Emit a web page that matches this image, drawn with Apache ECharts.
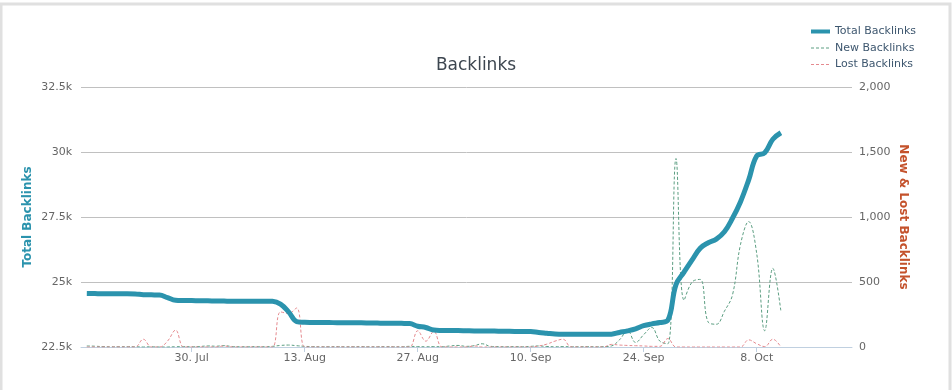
<!DOCTYPE html>
<html>
<head>
<meta charset="utf-8">
<script src="https://cdn.jsdelivr.net/npm/echarts@6/dist/echarts.min.js"></script>
<style>
html,body{margin:0;padding:0;background:#fff;}
#chart{width:952px;height:390px;}
</style>
</head>
<body>
<div id="chart"></div>
<script>
// Daily points, 17 Jul (index 0) to 11 Oct (index 86)
var totalBacklinks = [
  24560,24555,24550,24550,24545,24545,24540,24510,24505,24500,
  24400,24300,24290,24285,24280,24275,24270,24265,24260,24260,
  24260,24260,24260,24255,24150,23850,23480,23450,23445,23440,
  23440,23435,23435,23430,23430,23425,23420,23415,23415,23410,
  23400,23300,23250,23150,23135,23130,23130,23125,23120,23120,
  23115,23110,23105,23100,23100,23095,23060,23030,23000,22990,
  22990,22990,22990,22990,22990,22995,23060,23120,23200,23320,
  23390,23440,23530,24900,25380,25850,26300,26510,26650,26930,
  27450,28090,28920,29850,29970,30490,30740
];
var newBacklinks = [
  8,6,3,2,2,3,2,0,2,0,
  0,2,3,2,4,8,6,10,4,2,
  2,3,2,5,12,15,10,5,3,2,
  2,3,2,2,3,2,2,3,2,2,
  5,3,2,3,2,8,12,5,10,25,
  5,3,2,3,2,5,8,4,2,3,
  2,2,3,2,3,8,55,125,35,95,
  150,45,25,1450,360,500,520,190,175,275,
  400,790,965,720,125,605,275
];
var lostBacklinks = [
  0,0,0,0,0,0,0,60,0,0,
  45,130,0,0,0,0,0,8,0,0,
  0,0,0,0,270,258,300,0,0,0,
  0,0,0,0,0,0,0,0,0,0,
  0,125,45,120,0,0,0,0,8,0,
  0,0,0,0,0,0,8,22,45,60,
  0,0,0,0,0,20,15,12,10,8,
  5,5,65,0,0,0,0,0,0,0,
  0,0,55,25,3,60,0
];
var tickDays = [13, 27, 41, 55, 69, 83];
var tickLabels = ['30. Jul', '13. Aug', '27. Aug', '10. Sep', '24. Sep', '8. Oct'];
var seriesNames = ['Total Backlinks', 'New Backlinks', 'Lost Backlinks'];

function pairs(arr) { return arr.map(function (v, i) { return [i, v]; }); }

var FONT = 'DejaVu Sans';
var TEAL = '#2b93ad', GREEN = '#5c9e82', PINK = '#e58a8f';
var chart = echarts.init(document.getElementById('chart'), null, { renderer: 'canvas' });
chart.setOption({
  animation: false,
  backgroundColor: '#ffffff',
  title: {
    text: 'Backlinks',
    left: 'center',
    top: 52,
    textStyle: { fontFamily: FONT, fontSize: 17, fontWeight: 'normal', color: '#3d4650' }
  },
  legend: {
    orient: 'vertical',
    left: 809,
    top: 26,
    padding: 0,
    itemWidth: 19,
    itemHeight: 10,
    itemGap: 5.5,
    data: [
      { name: seriesNames[0], lineStyle: { width: 4, color: TEAL, type: 'solid' } },
      { name: seriesNames[1], lineStyle: { width: 1, color: GREEN, type: [3, 2] } },
      { name: seriesNames[2], lineStyle: { width: 1, color: PINK, type: [3, 2] } }
    ],
    itemStyle: { opacity: 0, borderWidth: 0 },
    textStyle: { fontFamily: FONT, fontSize: 11, color: '#3e576f' }
  },
  grid: { left: 81, right: 100, top: 87, bottom: 43 },
  xAxis: {
    type: 'value',
    min: -0.72,
    max: 94.81,
    splitLine: { show: false },
    axisLine: { show: true, lineStyle: { color: '#c0d0e0' } },
    axisTick: { show: true, length: 5, customValues: tickDays, lineStyle: { color: '#c0d0e0' } },
    axisLabel: {
      customValues: tickDays,
      margin: 6,
      fontFamily: FONT, fontSize: 11, color: '#666666',
      formatter: function (v) {
        var k = tickDays.indexOf(Math.round(v));
        return k >= 0 ? tickLabels[k] : '';
      }
    }
  },
  yAxis: [
    {
      type: 'value',
      min: 22500, max: 32500, interval: 2500,
      name: 'Total Backlinks',
      nameLocation: 'middle',
      nameGap: 47,
      nameMoveOverlap: false,
      nameTextStyle: { fontFamily: FONT, fontSize: 12, fontWeight: 'bold', color: TEAL },
      axisLine: { show: false },
      axisTick: { show: false },
      axisLabel: {
        margin: 9, fontFamily: FONT, fontSize: 11, color: '#666666',
        formatter: function (v) { return (v / 1000) + 'k'; }
      },
      splitLine: { lineStyle: { color: '#c0c0c0', width: 1 } }
    },
    {
      type: 'value',
      min: 0, max: 2000, interval: 500,
      name: 'New & Lost Backlinks',
      nameLocation: 'middle',
      nameGap: 45,
      nameMoveOverlap: false,
      nameRotate: -90,
      nameTextStyle: { fontFamily: FONT, fontSize: 12, fontWeight: 'bold', color: '#c4522c' },
      axisLine: { show: false },
      axisTick: { show: false },
      axisLabel: {
        margin: 7, fontFamily: FONT, fontSize: 11, color: '#666666',
        formatter: function (v) { return v.toLocaleString('en-US'); }
      },
      splitLine: { show: false }
    }
  ],
  series: [
    {
      name: seriesNames[1], type: 'line', yAxisIndex: 1, smooth: 0.4, symbol: 'none',
      data: pairs(newBacklinks), z: 2,
      itemStyle: { color: GREEN },
      lineStyle: { color: GREEN, width: 1, type: [3, 2] }
    },
    {
      name: seriesNames[2], type: 'line', yAxisIndex: 1, smooth: 0.4, symbol: 'none',
      data: pairs(lostBacklinks), z: 2,
      itemStyle: { color: PINK },
      lineStyle: { color: PINK, width: 1, type: [3, 2] }
    },
    {
      name: seriesNames[0], type: 'line', yAxisIndex: 0, smooth: 0.4, symbol: 'none',
      data: pairs(totalBacklinks), z: 3,
      itemStyle: { color: TEAL },
      lineStyle: { color: TEAL, width: 5 }
    }
  ],
  graphic: [
    {
      type: 'rect', silent: true, z: 100,
      shape: { x: 1, y: 4, width: 949, height: 400 },
      style: { fill: 'none', stroke: '#e0e0e0', lineWidth: 3 }
    }
  ]
});
</script>
</body>
</html>
